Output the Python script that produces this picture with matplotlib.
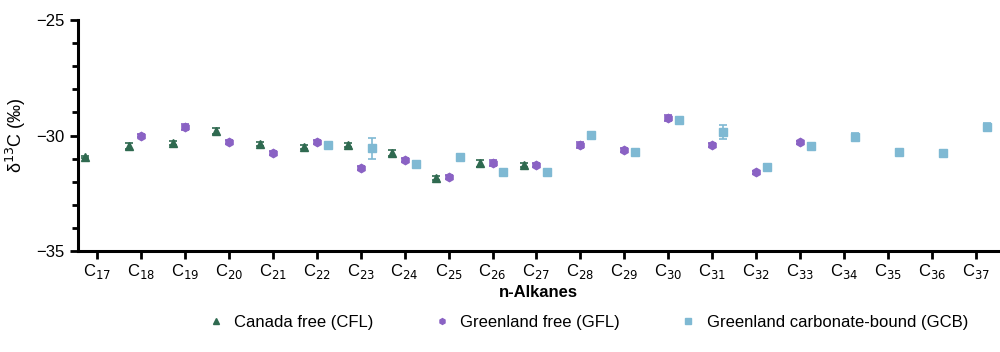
import numpy as np
import matplotlib
matplotlib.use("Agg")
import matplotlib.pyplot as plt
from matplotlib.ticker import MultipleLocator

plt.rcParams["font.family"] = ["Liberation Sans", "DejaVu Sans"]

# n-alkane chain lengths
alkanes = [f"C$_{{{n}}}$" for n in range(17, 38)]

# delta 13C values (permil); None = not measured
canada_free = [-30.93, -30.45, -30.33, -29.80, -30.38, -30.50, -30.40, -30.76, -31.84,
               -31.20, -31.28, None, None, None, None, None, None, None, None, None, None]
greenland_free = [None, -30.00, -29.63, -30.28, -30.76, -30.28, -31.40, -31.06, -31.80,
                  -31.20, -31.28, -30.40, -30.63, -29.25, -30.40, -31.60, -30.30, None,
                  None, None, None]
greenland_carb = [None, None, None, None, None, -30.40, -30.55, -31.23, -30.93,
                  -31.60, -31.60, -29.98, -30.70, -29.33, -29.85, -31.36, -30.45, -30.06,
                  -30.70, -30.75, -29.62]

# standard deviations
canada_sd = [0.05, 0.12, 0.08, 0.12, 0.08, 0.08, 0.08, 0.12, 0.10,
             0.15, 0.10, None, None, None, None, None, None, None, None, None, None]
greenland_sd = [None, 0.08, 0.15, 0.10, 0.08, 0.08, 0.10, 0.10, 0.08,
                0.12, 0.10, 0.12, 0.08, 0.12, 0.08, 0.08, 0.08, None, None, None, None]
carb_sd = [None, None, None, None, None, 0.08, 0.45, 0.12, 0.15,
           0.12, 0.10, 0.15, 0.08, 0.10, 0.30, 0.12, 0.12, 0.15, 0.10, 0.12, 0.15]

series = [
    ("Canada free (CFL)", canada_free, canada_sd, "#2f6a50", "^", -0.28),
    ("Greenland free (GFL)", greenland_free, greenland_sd, "#8a62c4", "h", 0.0),
    ("Greenland carbonate-bound (GCB)", greenland_carb, carb_sd, "#7fb9d3", "s", 0.25),
]

fig = plt.figure(figsize=(10, 3.52), dpi=100)
ax = fig.add_axes([0.078, 0.287, 0.92, 0.656])

x = np.arange(len(alkanes))
for label, vals, sds, color, marker, off in series:
    xs = [xi + off for xi, v in zip(x, vals) if v is not None]
    ys = [v for v in vals if v is not None]
    es = [s for s, v in zip(sds, vals) if v is not None]
    ax.errorbar(xs, ys, yerr=es, fmt=marker, color=color, ms=6, mec=color,
                elinewidth=1.2, capsize=3, capthick=1.2, label=label)

ax.set_xlim(-0.43, 20.5)
ax.set_ylim(-35, -25)
ax.set_xticks(x)
ax.set_xticklabels(alkanes, fontsize=12)
ax.set_yticks([-35, -30, -25])
ax.yaxis.set_minor_locator(MultipleLocator(1))
ax.tick_params(axis="both", which="major", width=2, length=6, labelsize=12)
ax.tick_params(axis="x", which="major", pad=2)
ax.tick_params(axis="y", which="minor", width=2, length=4)
for side in ("top", "right"):
    ax.spines[side].set_visible(False)
for side in ("left", "bottom"):
    ax.spines[side].set_linewidth(2.2)

ax.set_ylabel("δ$^{13}$C (‰)", fontsize=13, labelpad=6)
ax.set_xlabel("n-Alkanes", fontsize=12, fontweight="bold", labelpad=3)

handles, labels = ax.get_legend_handles_labels()
handles = [h[0] for h in handles]
fig.legend(handles, labels, loc="center", bbox_to_anchor=(0.587, 0.085), ncol=3,
           frameon=False, fontsize=12, handletextpad=0.5, columnspacing=3.5,
           handlelength=1.2, markerscale=0.7)

fig.savefig("out.png", dpi=100)
